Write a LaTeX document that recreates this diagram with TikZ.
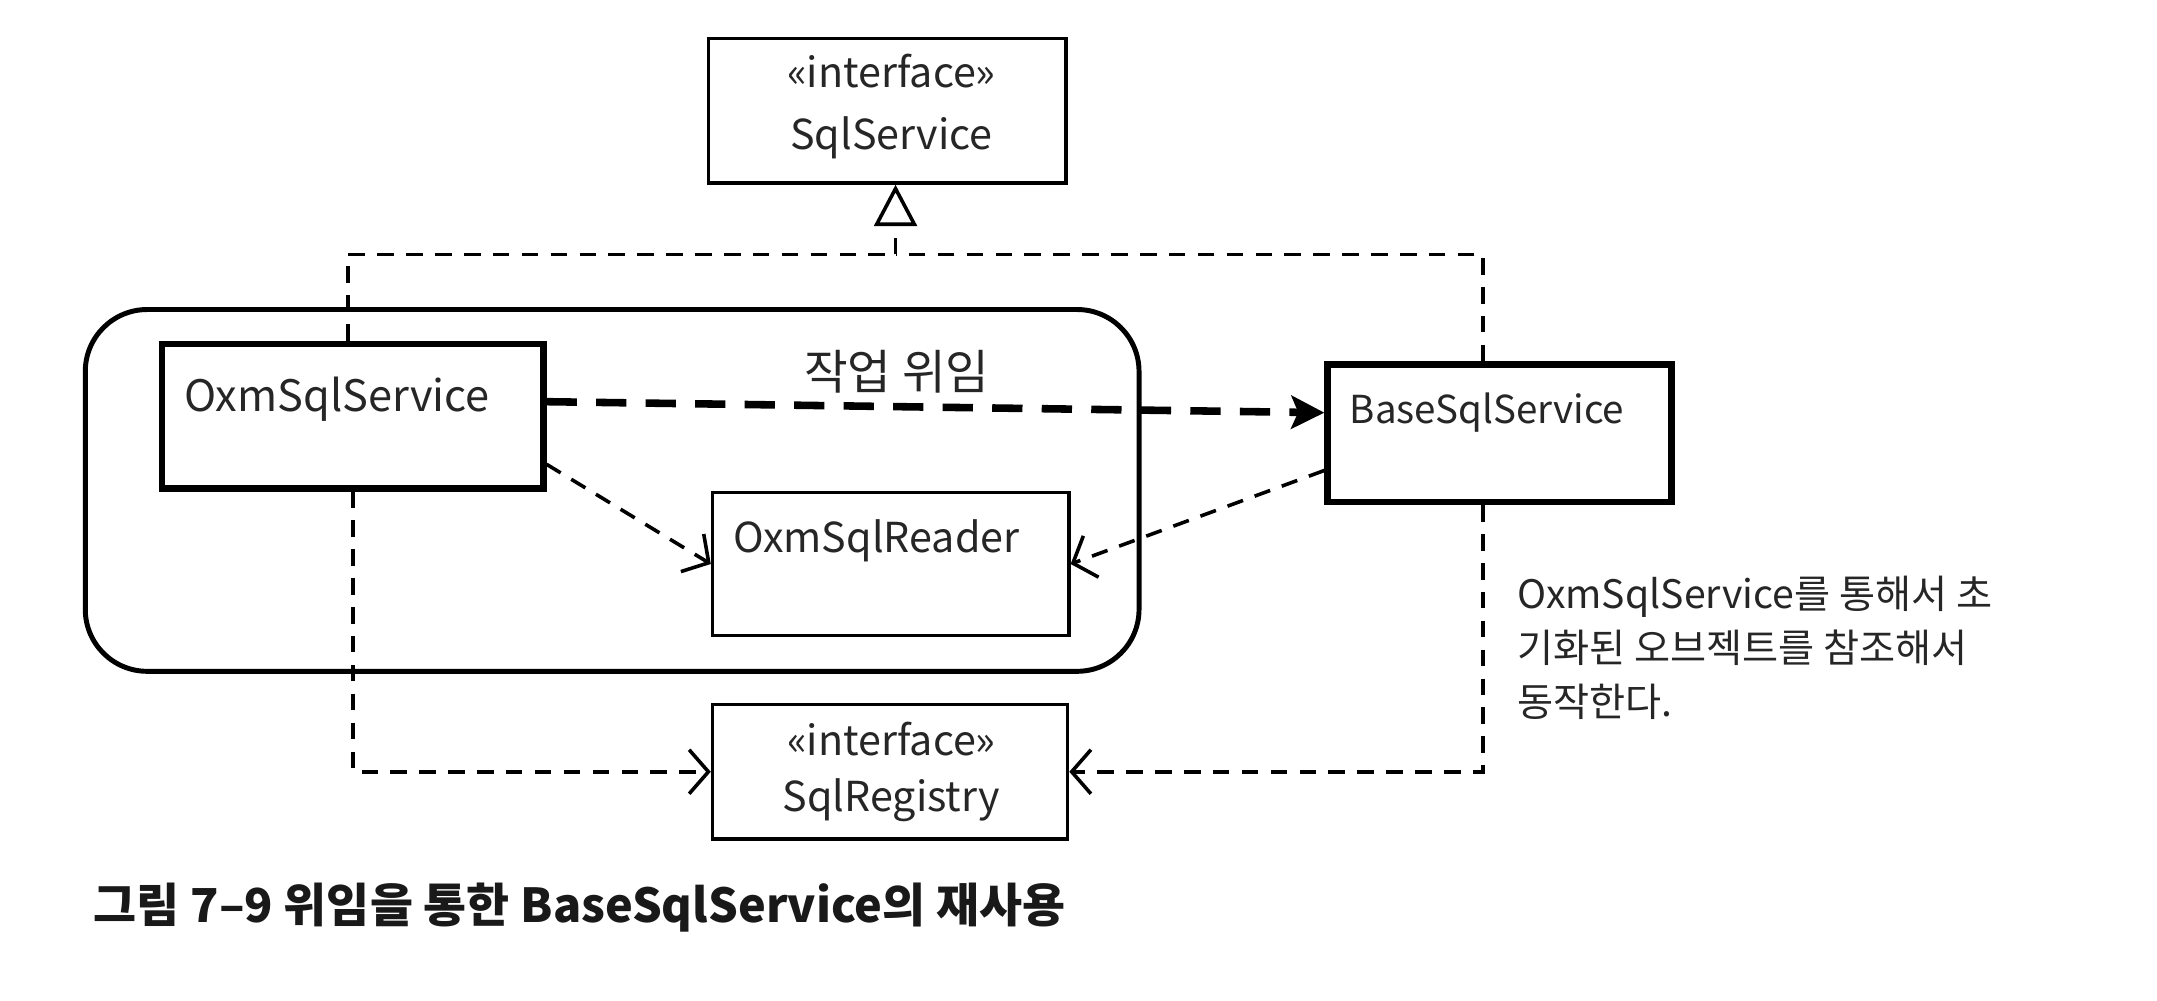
\documentclass[tikz,border=0pt]{standalone}
\usepackage{fontspec}
\setmainfont{Noto Sans CJK KR}
\usetikzlibrary{arrows.meta,calc}
\begin{document}
\begin{tikzpicture}[x=1pt,y=-1pt,
  thinbox/.style={draw,line width=2.6pt,inner sep=0pt},
  thickbox/.style={draw,line width=4.6pt,inner sep=0pt},
  grpbox/.style={draw,line width=3.6pt,rounded corners=45pt,inner sep=0pt},
  lbl/.style={font=\fontsize{30}{36}\selectfont,inner sep=0pt,text=black!85},
  deplink/.style={line width=2.6pt,dash pattern=on 12pt off 9pt,
     -{Straight Barb[length=14pt,width=32pt,line width=2.6pt]}},
  plainlink/.style={line width=2.6pt,dash pattern=on 12pt off 9pt},
  genlink/.style={line width=2.6pt,dash pattern=on 12pt off 9pt,
     -{Triangle[open,length=30pt,width=31pt,line width=2.6pt,fill=white]}},
  delegate/.style={line width=5.5pt,dash pattern=on 22pt off 14pt,
     -{Stealth[length=24pt,width=24pt,inset=5pt]}}
]
\useasboundingbox (0,0) rectangle (1568,727);
\fill[white] (0,0) rectangle (1568,727);

% group
\node[grpbox,minimum width=766,minimum height=263] (grp) at (445,356.5) {};

% boxes
\node[thinbox,minimum width=260,minimum height=105] (sql) at (645,80.5) {};
\node[lbl] (sqlst) at (648,52) {«interface»};
\node[lbl] (sqlnm) at (648,100) {SqlService};

\node[thickbox,minimum width=277,minimum height=105] (oxm) at (256.5,302.5) {};
\node[lbl,font=\fontsize{31.5}{36}\selectfont] (oxmt) at (245,290) {OxmSqlService};

\node[thinbox,minimum width=259,minimum height=104] (rdr) at (647.5,410) {};
\node[lbl] (rdrt) at (637,393) {OxmSqlReader};

\node[thickbox,minimum width=250,minimum height=100] (base) at (1090,315) {};
\node[lbl,font=\fontsize{28}{36}\selectfont] (baset) at (1081,300) {BaseSqlService};

\node[thinbox,minimum width=258,minimum height=98] (reg) at (647,561) {};
\node[lbl] (regst) at (648,537) {«interface»};
\node[lbl] (regnm) at (648,582) {SqlRegistry};

% label
\node[lbl,font=\fontsize{34.5}{38}\selectfont] (task) at (652,270) {작업 위임};

% note
\node[anchor=west,align=left,inner sep=0pt,text=black!85,
  font=\fontsize{28.5}{39}\selectfont] (note) at (1103,471)
  {OxmSqlService를 통해서 초\\기화된 오브젝트를 참조해서\\동작한다.};

% caption
\node[anchor=west,inner sep=0pt,text=black!90,
  font=\fontsize{34}{40}\selectfont\bfseries] (cap) at (68,660)
  {그림 7–9 위임을 통한 BaseSqlService의 재사용};

% generalization
\coordinate (j) at (651,185);
\draw[plainlink] ([xshift=-3.5pt]oxm.north) |- (j);
\draw[plainlink] ([xshift=-12pt]base.north) |- (j);
\draw[genlink] (j) -- (j |- sql.south);

% delegation
\draw[delegate] ([yshift=10.5pt]oxm.east) -- ([yshift=15pt]base.west);

% dependencies
\draw[deplink] ([yshift=-35pt]oxm.east) -- (rdr.west);
\draw[deplink] ([yshift=-27pt]base.west) -- (rdr.east);
\draw[deplink] (oxm.south) |- (reg.west);
\draw[deplink] ([xshift=-12pt]base.south) |- (reg.east);
\end{tikzpicture}
\end{document}
